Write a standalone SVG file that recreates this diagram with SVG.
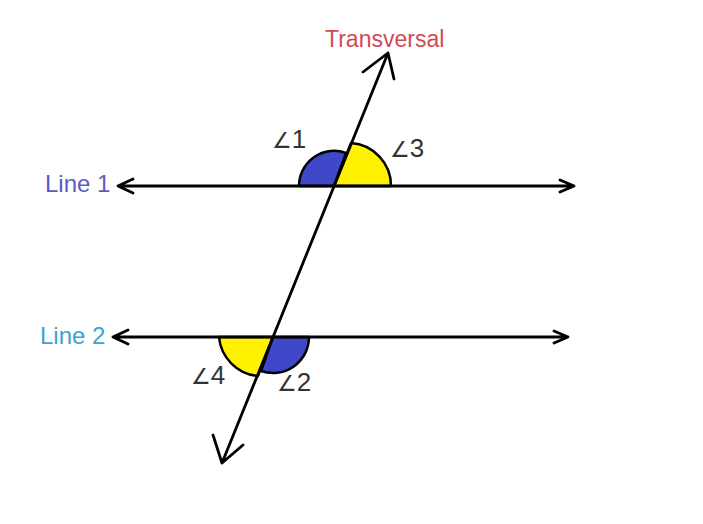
<svg xmlns="http://www.w3.org/2000/svg" width="703" height="524" viewBox="0 0 703 524">
<style>
.ln{stroke:#000;stroke-width:2.8;fill:none;stroke-linecap:round;stroke-linejoin:round}
.arc{stroke:#000;stroke-width:2.5;stroke-linejoin:round}
.ang{font-family:"Liberation Sans","DejaVu Sans",sans-serif;font-size:26px;fill:#333}
.sym{font-family:"DejaVu Sans",sans-serif;font-size:22px}
.lbl{font-family:"Liberation Sans",sans-serif;font-size:24px}
</style>
<rect width="703" height="524" fill="#fff"/>
<g id="angle1"><path class="arc" fill="#3f48c8" d="M299,186 A35,35 0 0 1 346,153 L334,186 Z"/><text class="ang" x="272" y="148"><tspan class="sym">∠</tspan>1</text></g>
<g id="angle3"><path class="arc" fill="#fff200" d="M351,143 A43,43 0 0 1 391,186 L334,186 Z"/><text class="ang" x="390" y="157"><tspan class="sym">∠</tspan>3</text></g>
<g id="angle4"><path class="arc" fill="#fff200" d="M219,337 A43,43 0 0 0 258,376 L273,337 Z"/><text class="ang" x="191" y="384"><tspan class="sym">∠</tspan>4</text></g>
<g id="angle2"><path class="arc" fill="#3f48c8" d="M309,337 A36,36 0 0 1 261,371 L273,337 Z"/><text class="ang" x="277" y="391"><tspan class="sym">∠</tspan>2</text></g>
<g id="connectors">
<path class="ln" d="M118,186 H574 M133,179 L118,186 L133,193 M560,180 L574,186 L560,192"/>
<path class="ln" d="M113,337 H568 M128,330 L113,337 L128,344 M554,331 L568,337 L554,343"/>
<path class="ln" d="M388,53 L222,463 M363,72 L388,53 L394,79 M213,435 L222,463 L243,445"/>
</g>
<g id="line1-label"><text class="lbl" x="45" y="192" fill="#5a5cc0">Line 1</text></g>
<g id="line2-label"><text class="lbl" x="40" y="344" fill="#3aa3d2">Line 2</text></g>
<g id="transversal-label"><text class="lbl" x="325" y="47" fill="#d04a55" style="font-size:23px">Transversal</text></g>
</svg>
